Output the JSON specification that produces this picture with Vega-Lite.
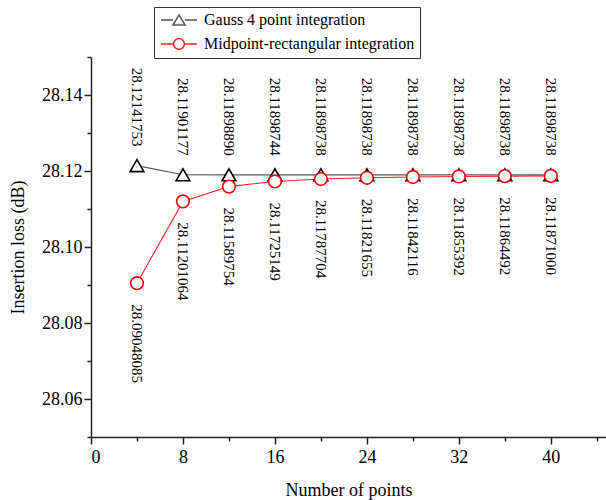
{
  "$schema": "https://vega.github.io/schema/vega-lite/v6.json",
  "width": 515,
  "height": 380,
  "autosize": {"type": "none"},
  "padding": {"left": 91, "top": 57, "right": 0, "bottom": 63},
  "background": "white",
  "config": {
    "view": {"stroke": null},
    "font": "Liberation Serif",
    "axis": {
      "grid": false,
      "domainColor": "#222222",
      "domainWidth": 1.5,
      "tickColor": "#222222",
      "tickWidth": 1.5,
      "labelFont": "Liberation Serif",
      "labelFontSize": 18,
      "labelColor": "black",
      "titleFont": "Liberation Serif",
      "titleFontSize": 18,
      "titleFontWeight": "normal",
      "titleColor": "black"
    }
  },
  "data": {
    "values": [
      {"n": 4, "series": "Gauss 4 point integration", "value": 28.12141753},
      {"n": 8, "series": "Gauss 4 point integration", "value": 28.11901177},
      {"n": 12, "series": "Gauss 4 point integration", "value": 28.1189889},
      {"n": 16, "series": "Gauss 4 point integration", "value": 28.11898744},
      {"n": 20, "series": "Gauss 4 point integration", "value": 28.11898738},
      {"n": 24, "series": "Gauss 4 point integration", "value": 28.11898738},
      {"n": 28, "series": "Gauss 4 point integration", "value": 28.11898738},
      {"n": 32, "series": "Gauss 4 point integration", "value": 28.11898738},
      {"n": 36, "series": "Gauss 4 point integration", "value": 28.11898738},
      {"n": 40, "series": "Gauss 4 point integration", "value": 28.11898738},
      {"n": 4, "series": "Midpoint-rectangular integration", "value": 28.09048085},
      {"n": 8, "series": "Midpoint-rectangular integration", "value": 28.11201064},
      {"n": 12, "series": "Midpoint-rectangular integration", "value": 28.11589754},
      {"n": 16, "series": "Midpoint-rectangular integration", "value": 28.11725149},
      {"n": 20, "series": "Midpoint-rectangular integration", "value": 28.11787704},
      {"n": 24, "series": "Midpoint-rectangular integration", "value": 28.11821655},
      {"n": 28, "series": "Midpoint-rectangular integration", "value": 28.11842116},
      {"n": 32, "series": "Midpoint-rectangular integration", "value": 28.11855392},
      {"n": 36, "series": "Midpoint-rectangular integration", "value": 28.11864492},
      {"n": 40, "series": "Midpoint-rectangular integration", "value": 28.11871}
    ]
  },
  "encoding": {
    "x": {"field": "n", "type": "quantitative", "scale": {"domain": [0, 44.8], "nice": false, "zero": false}, "axis": null},
    "y": {"field": "value", "type": "quantitative", "scale": {"domain": [28.05, 28.15], "nice": false, "zero": false}, "axis": null}
  },
  "layer": [
    {
      "mark": {"type": "point", "opacity": 0},
      "encoding": {
        "x": {"field": "n", "type": "quantitative", "scale": {"domain": [0, 44.8], "nice": false, "zero": false},
          "axis": {"orient": "bottom", "values": [4, 12, 20, 28, 36, 44], "labels": false, "domain": false, "tickSize": 4, "title": null}},
        "y": {"field": "value", "type": "quantitative", "scale": {"domain": [28.05, 28.15], "nice": false, "zero": false},
          "axis": {"orient": "left", "values": [28.05, 28.07, 28.09, 28.11, 28.13, 28.15], "labels": false, "domain": false, "tickSize": 4, "title": null}}
      }
    },
    {
      "mark": {"type": "line", "strokeWidth": 1.1},
      "encoding": {
        "x": {"field": "n", "type": "quantitative", "scale": {"domain": [0, 44.8], "nice": false, "zero": false},
          "axis": {"orient": "bottom", "values": [0, 8, 16, 24, 32, 40], "tickSize": 7, "labelPadding": 4, "title": "Number of points", "titlePadding": 15}},
        "y": {"field": "value", "type": "quantitative", "scale": {"domain": [28.05, 28.15], "nice": false, "zero": false},
          "axis": {"orient": "left", "values": [28.06, 28.08, 28.1, 28.12, 28.14], "format": ".2f", "tickSize": 7, "labelPadding": 2, "title": "Insertion loss (dB)", "titlePadding": 14}},
        "color": {
          "field": "series", "type": "nominal",
          "scale": {"domain": ["Gauss 4 point integration", "Midpoint-rectangular integration"], "range": ["#555555", "#ff2020"]},
          "legend": {
            "orient": "none", "legendX": 63, "legendY": -50, "title": null,
            "symbolSize": 144, "symbolOffset": 12, "labelOffset": 17, "symbolStrokeWidth": 1.5,
            "labelFont": "Liberation Serif", "labelFontSize": 16, "labelColor": "black", "labelLimit": 400,
            "strokeColor": "#333333", "fillColor": "white", "padding": 5, "rowPadding": 6,
            "encode": {"symbols": {"update": {"shape": {"signal": "datum.value === 'Gauss 4 point integration' ? 'M-3,0H-1M1,0H3M0,-0.85L1,0.85H-1Z' : 'M-3,0H-0.9M0.9,0H3M-0.9,0A0.9,0.9 0 1,0 0.9,0A0.9,0.9 0 1,0 -0.9,0'"}}}}
          }
        }
      }
    },
    {
      "transform": [{"filter": "datum.series === 'Gauss 4 point integration'"}],
      "mark": {"type": "point", "shape": "triangle-up", "size": 190, "filled": true, "fill": "white", "stroke": "black", "strokeWidth": 1.6, "opacity": 1}
    },
    {
      "transform": [{"filter": "datum.series === 'Midpoint-rectangular integration'"}],
      "mark": {"type": "point", "shape": "circle", "size": 160, "filled": true, "fill": "white", "stroke": "#ff0000", "strokeWidth": 1.6, "opacity": 1}
    },
    {
      "transform": [{"filter": "datum.series === 'Gauss 4 point integration'"}],
      "mark": {"type": "text", "angle": 90, "align": "right", "baseline": "middle", "dx": -19, "fontSize": 15, "font": "Liberation Serif", "color": "black"},
      "encoding": {"text": {"field": "value", "type": "quantitative", "format": ".8f"}}
    },
    {
      "transform": [{"filter": "datum.series === 'Midpoint-rectangular integration'"}],
      "mark": {"type": "text", "angle": 90, "align": "left", "baseline": "middle", "dx": 21, "fontSize": 15, "font": "Liberation Serif", "color": "black"},
      "encoding": {"text": {"field": "value", "type": "quantitative", "format": ".8f"}}
    }
  ],
  "resolve": {"axis": {"x": "independent", "y": "independent"}}
}
